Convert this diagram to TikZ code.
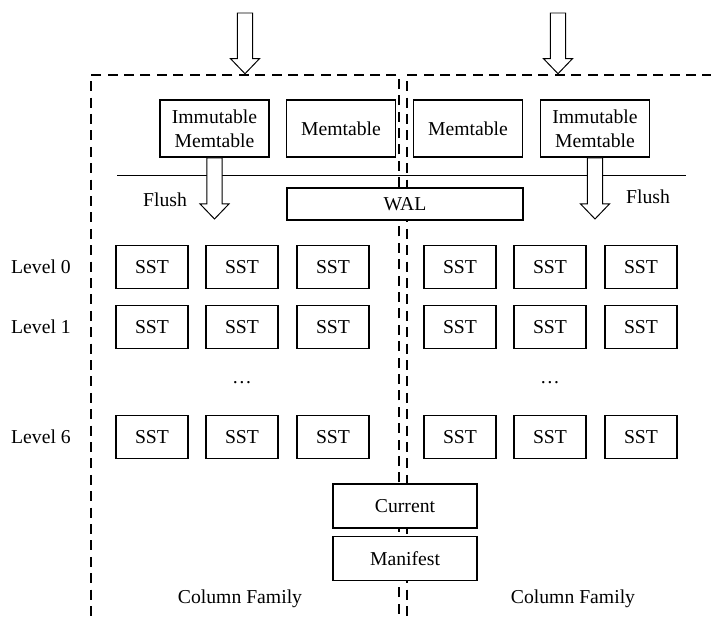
\documentclass[tikz,border=0pt]{standalone}
\usepackage{fontspec}
\setmainfont{Liberation Serif}
\usetikzlibrary{calc}

% hollow block arrow pointing down from #1 to #2
\newcommand{\fatarrow}[2]{%
  \draw[fat] ($(#1)+(-1.9mm,0)$) -- ($(#2)+(-1.9mm,3.75mm)$) -- ($(#2)+(-3.6mm,3.75mm)$)
    -- (#2) -- ($(#2)+(3.6mm,3.75mm)$) -- ($(#2)+(1.9mm,3.75mm)$) -- ($(#1)+(1.9mm,0)$) -- cycle;}

\begin{document}
\begin{tikzpicture} [x=0.25mm,y=-0.25mm,font=\fontsize{14}{17}\selectfont,
		every node/.style={inner sep=0pt},
		box/.style={draw,line width=1.4pt,fill=white,align=center},
		memtable/.style={box,minimum width=27.25mm,minimum height=14.25mm},
		sst/.style={box,minimum width=18mm,minimum height=10.75mm},
		meta/.style={box,minimum width=36mm,minimum height=11mm},
		family/.style={draw,line width=1.8pt,dash pattern=on 2.5mm off 1.6mm,
			minimum width=77mm,minimum height=143.75mm},
		fat/.style={line width=0.7pt,fill=white,draw}]

		\useasboundingbox (0,0) rectangle (711,616);

		% the two column families
		\node [family] (cf_l) at (245,362.5) {};
		\node [family] (cf_r) at (561,362.5) {};

		\coordinate (wl_a) at (117,175);
		\coordinate (wl_b) at (686,175);
		\draw [line width=0.7pt] (wl_a) -- (wl_b);

		% memtables
		\node [memtable] (imm_l) at (214.5,128.5) {Immutable\\Memtable};
		\node [memtable] (mem_l) at (341,128.5) {Memtable};
		\node [memtable] (mem_r) at (468,128.5) {Memtable};
		\node [memtable] (imm_r) at (595,128.5) {Immutable\\Memtable};

		\node [box,minimum width=59mm,minimum height=8mm] (wal) at (405,204) {WAL};

		% levels
		\node (lv_0) at (41,267) {Level 0};
		\node (lv_1) at (41,327) {Level 1};
		\node (lv_6) at (41,437) {Level 6};
		\foreach \x/\c in {152/l0,242/l1,333/l2,460/r0,550/r1,641/r2}
			\foreach \y/\r in {267/0,327/1,437/6}
				\node [sst] (sst_\c_\r) at (\x,\y) {SST};
		\node (dots_l) at (242,383) {\ldots};
		\node (dots_r) at (550,383) {\ldots};

		\node [meta] (current) at (405,506) {Current};
		\node [meta] (manifest) at (405,558.5) {Manifest};

		\node (name_l) at (240,599) {Column Family};
		\node (name_r) at (573,599) {Column Family};

		% writes coming in and flushes going down
		\coordinate (in_l) at (245,13);
		\coordinate (in_r) at (558,13);
		\coordinate (top_l) at (in_l |- cf_l.north);
		\coordinate (top_r) at (in_r |- cf_r.north);
		\fatarrow{in_l}{top_l}
		\fatarrow{in_r}{top_r}

		\path (imm_l.south) ++(0,61) coordinate (fl_l);
		\path (imm_r.south) ++(0,61) coordinate (fl_r);
		\fatarrow{imm_l.south}{fl_l}
		\fatarrow{imm_r.south}{fl_r}
		\node (flush_l) at (165,200) {Flush};
		\node (flush_r) at (648,197) {Flush};
		\end{tikzpicture}
\end{document}
